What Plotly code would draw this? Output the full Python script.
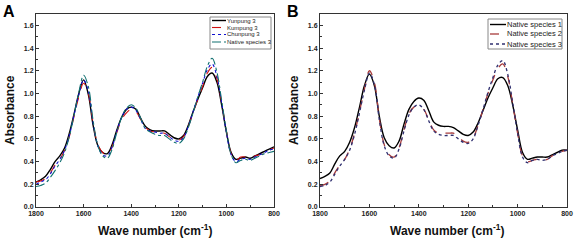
import plotly.graph_objects as go

wavenumber = [1800,1780,1760,1740,1720,1700,1680,1660,1640,1620,1600,1580,1560,1540,1520,1500,
              1480,1460,1440,1420,1400,1380,1360,1340,1320,1300,1280,1260,1240,1220,1200,1180,
              1160,1140,1120,1100,1080,1060,1040,1020,1000,980,960,940,920,900,880,860,840,820,800]

# Panel A
yunpung3 = [0.22,0.24,0.27,0.33,0.40,0.45,0.52,0.65,0.82,1.00,1.12,0.99,0.72,0.54,0.48,0.47,
            0.55,0.68,0.79,0.86,0.88,0.86,0.78,0.71,0.68,0.67,0.67,0.67,0.64,0.61,0.60,0.63,
            0.72,0.84,0.95,1.05,1.15,1.18,1.10,0.90,0.66,0.48,0.42,0.43,0.44,0.43,0.45,0.47,0.49,0.51,0.53]
kumpung3 = [0.22,0.23,0.25,0.30,0.37,0.42,0.50,0.62,0.80,0.97,1.09,1.00,0.74,0.55,0.48,0.46,
            0.53,0.66,0.77,0.83,0.86,0.84,0.77,0.70,0.67,0.66,0.65,0.65,0.62,0.60,0.59,0.62,
            0.71,0.83,0.95,1.06,1.18,1.23,1.13,0.92,0.67,0.47,0.41,0.44,0.44,0.43,0.45,0.46,0.48,0.50,0.52]
chunpung3 = [0.20,0.22,0.24,0.29,0.36,0.42,0.50,0.63,0.81,0.99,1.12,1.02,0.74,0.54,0.46,0.45,
             0.53,0.67,0.79,0.86,0.88,0.85,0.77,0.69,0.67,0.66,0.65,0.65,0.62,0.59,0.58,0.61,
             0.71,0.84,0.97,1.09,1.21,1.26,1.15,0.92,0.66,0.46,0.40,0.42,0.43,0.42,0.44,0.46,0.48,0.50,0.51]
native3_a = [0.18,0.19,0.21,0.26,0.32,0.39,0.48,0.62,0.81,1.01,1.16,1.06,0.76,0.54,0.45,0.43,
             0.51,0.66,0.79,0.87,0.90,0.87,0.78,0.69,0.66,0.64,0.63,0.63,0.60,0.57,0.56,0.60,
             0.70,0.83,0.97,1.10,1.24,1.31,1.19,0.94,0.67,0.46,0.39,0.41,0.42,0.41,0.43,0.45,0.47,0.48,0.49]

# Panel B
native1 = [0.25,0.27,0.30,0.38,0.45,0.49,0.57,0.70,0.88,1.07,1.17,1.07,0.80,0.61,0.54,0.52,
           0.58,0.73,0.86,0.93,0.96,0.94,0.85,0.75,0.72,0.71,0.71,0.70,0.67,0.64,0.63,0.66,
           0.74,0.85,0.96,1.05,1.13,1.14,1.07,0.90,0.68,0.48,0.42,0.43,0.44,0.44,0.44,0.46,0.48,0.50,0.50]
native2 = [0.19,0.20,0.23,0.30,0.37,0.42,0.51,0.65,0.84,1.04,1.20,1.10,0.78,0.55,0.46,0.44,
           0.52,0.68,0.82,0.88,0.89,0.86,0.77,0.68,0.65,0.65,0.65,0.65,0.62,0.58,0.57,0.61,
           0.72,0.86,1.00,1.12,1.22,1.26,1.15,0.91,0.65,0.45,0.40,0.41,0.42,0.41,0.42,0.45,0.47,0.49,0.50]
native3_b = [0.18,0.19,0.22,0.29,0.36,0.42,0.50,0.64,0.83,1.03,1.18,1.08,0.77,0.54,0.45,0.43,
             0.51,0.67,0.81,0.88,0.90,0.86,0.76,0.67,0.64,0.63,0.63,0.63,0.60,0.57,0.56,0.60,
             0.72,0.86,1.01,1.14,1.25,1.29,1.17,0.92,0.65,0.44,0.39,0.41,0.42,0.41,0.42,0.45,0.47,0.49,0.50]

x_ticks = [1800, 1600, 1400, 1200, 1000, 800]
y_ticks = [0.0, 0.2, 0.4, 0.6, 0.8, 1.0, 1.2, 1.4, 1.6]

W, H = 574, 241
FONT = "Liberation Sans"

fig = go.Figure()

seriesA = [
    ("Yunpung 3", yunpung3, "#000000", "solid", 1.4),
    ("Kumpung 3", kumpung3, "#d01010", "dash", 1.1),
    ("Chunpung 3", chunpung3, "#1010d0", "dot", 1.1),
    ("Native species 3", native3_a, "#107070", "dashdot", 1.1),
]
seriesB = [
    ("Native species 1", native1, "#000000", "solid", 1.4),
    ("Native species 2", native2, "#a83c3c", "dash", 1.3),
    ("Native species 3", native3_b, "#303070", "dot", 1.3),
]

for name, ys, col, dash, w in seriesA:
    fig.add_trace(go.Scatter(x=wavenumber, y=ys, name=name, mode="lines", showlegend=False,
                             line=dict(color=col, dash=dash, width=w, shape="spline", smoothing=1.0),
                             xaxis="x", yaxis="y"))
for name, ys, col, dash, w in seriesB:
    fig.add_trace(go.Scatter(x=wavenumber, y=ys, name=name, mode="lines", showlegend=False,
                             line=dict(color=col, dash=dash, width=w, shape="spline", smoothing=1.0),
                             xaxis="x2", yaxis="y2"))

def px(xp):
    return xp / W

def py(yp):
    return 1 - yp / H

tickfont = dict(family=FONT, size=7, color="#222222", weight="bold")
common_x = dict(range=[1800, 800], tickvals=x_ticks, ticktext=[str(v) for v in x_ticks],
                ticks="inside", ticklen=3, tickcolor="#333", showline=True, linecolor="#333",
                linewidth=1, mirror=True, showgrid=False, zeroline=False, tickfont=tickfont,
                automargin=False,
                minor=dict(ticks="inside", ticklen=2, dtick=100, tick0=800, tickcolor="#333", showgrid=False))
common_y = dict(range=[0, 1.7], tickvals=y_ticks, ticktext=[f"{v:.1f}" for v in y_ticks],
                ticks="inside", ticklen=3, tickcolor="#333", showline=True, linecolor="#333",
                linewidth=1, mirror=True, showgrid=False, zeroline=False, tickfont=tickfont,
                automargin=False,
                minor=dict(ticks="inside", ticklen=2, dtick=0.1, tick0=0, tickcolor="#333", showgrid=False))

fig.update_layout(
    template="none",
    width=W, height=H, margin=dict(l=0, r=0, t=0, b=0, autoexpand=False),
    paper_bgcolor="white", plot_bgcolor="white",
    font=dict(family=FONT),
    showlegend=False,
    xaxis=dict(domain=[px(36), px(274)], anchor="y", **common_x),
    yaxis=dict(domain=[py(207), py(14)], anchor="x", **common_y),
    xaxis2=dict(domain=[px(320), px(567)], anchor="y2", **common_x),
    yaxis2=dict(domain=[py(207), py(14)], anchor="x2", **common_y),
)

shapes = []
ann = []

def legend_box(x0, x1, y0, y1, rows, line_x0, line_x1, text_x, fsize):
    shapes.append(dict(type="rect", xref="paper", yref="paper",
                       x0=px(x0), x1=px(x1), y0=py(y1), y1=py(y0),
                       line=dict(color="#888", width=1), fillcolor="white", layer="above"))
    for (name, col, dash, w), yy in rows:
        shapes.append(dict(type="line", xref="paper", yref="paper",
                           x0=px(line_x0), x1=px(line_x1), y0=py(yy), y1=py(yy),
                           line=dict(color=col, dash=dash, width=w), layer="above"))
        ann.append(dict(text=name, x=px(text_x), y=py(yy), xanchor="left", yanchor="middle",
                        xref="paper", yref="paper", showarrow=False, borderpad=0,
                        font=dict(family=FONT, size=fsize, color="#222")))

legend_box(210, 271, 17, 49,
           [((n, c, d, w), yy) for (n, _, c, d, w), yy in zip(seriesA, [20.5, 27.5, 34.5, 42])],
           212, 226, 226, 6)
legend_box(488, 562, 19, 49,
           [((n, c, d, w), yy) for (n, _, c, d, w), yy in zip(seriesB, [24.5, 34, 44])],
           490, 506, 506, 7.5)

title_font = dict(family=FONT, size=12, color="#111")
ann.append(dict(text="<b>A</b>", x=px(1), y=py(1), xanchor="left", yanchor="top",
                font=dict(family=FONT, size=16, color="#000"), showarrow=False, xref="paper", yref="paper"))
ann.append(dict(text="<b>B</b>", x=px(285), y=py(1), xanchor="left", yanchor="top",
                font=dict(family=FONT, size=16, color="#000"), showarrow=False, xref="paper", yref="paper"))
for cx, cy in [(155, 230), (447, 230)]:
    ann.append(dict(text="<b>Wave number (cm<sup>-1</sup>)</b>", x=px(cx), y=py(cy),
                    xanchor="center", yanchor="middle", font=title_font, showarrow=False,
                    xref="paper", yref="paper"))
for cx in [10, 294]:
    ann.append(dict(text="<b>Absorbance</b>", x=px(cx), y=py(110), textangle=-90,
                    xanchor="center", yanchor="middle", font=title_font, showarrow=False,
                    xref="paper", yref="paper"))
fig.update_layout(annotations=ann, shapes=shapes)

fig.write_html("out.html", config={"displayModeBar": False},
               post_script="document.body.style.margin='0';document.body.style.padding='0';")
